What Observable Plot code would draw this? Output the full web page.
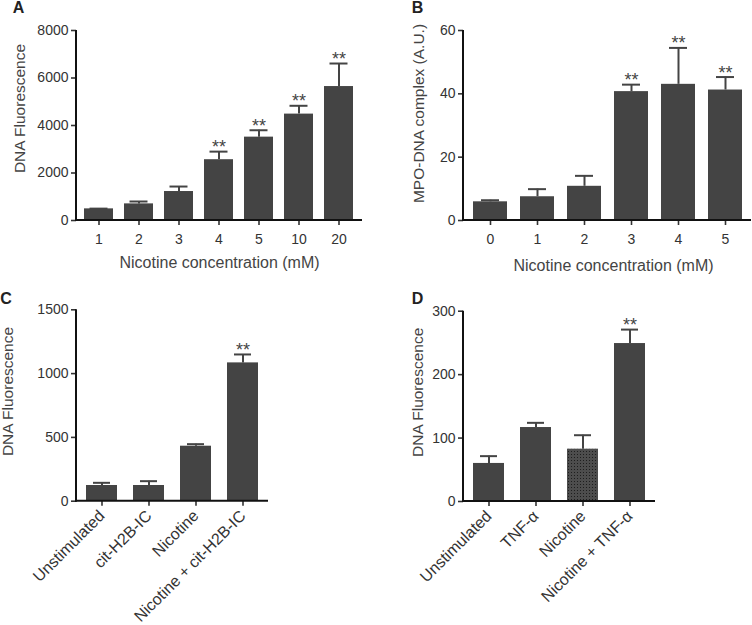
<!DOCTYPE html>
<html><head><meta charset="utf-8">
<script src="https://cdn.jsdelivr.net/npm/d3@7"></script>
<script src="https://cdn.jsdelivr.net/npm/@observablehq/plot@0.6"></script>
<style>
body{margin:0;background:#fff}
#fig{position:relative;width:752px;height:625px;font-family:"Liberation Sans",Arial,sans-serif}
#fig svg{position:absolute}
</style></head><body><div id="fig"></div>
<script>
// Panel A
const catsA = ["1","2","3","4","5","10","20"];
const meanA = [490,700,1220,2560,3510,4480,5640];
const upperA = [500,800,1430,2900,3800,4830,6610];
const sigA = [false,false,false,true,true,true,true];
const ticksA = [0,2000,4000,6000,8000];
// Panel B
const catsB = ["0","1","2","3","4","5"];
const meanB = [5.9,7.5,10.8,40.7,43.0,41.2];
const upperB = [6.4,9.9,14.1,42.9,54.5,45.3];
const sigB = [false,false,false,true,true,true];
const ticksB = [0,20,40,60];
// Panel C
const catsC = ["Unstimulated","cit-H2B-IC","Nicotine","Nicotine + cit-H2B-IC"];
const meanC = [123,123,431,1084];
const upperC = [144,157,447,1150];
const sigC = [false,false,false,true];
const ticksC = [0,500,1000,1500];
// Panel D
const catsD = ["Unstimulated","TNF-α","Nicotine","Nicotine + TNF-α"];
const meanD = [60,116.6,82.5,249];
const upperD = [71.5,124,104.5,271];
const sigD = [false,false,false,true];
const dottedD = [false,false,true,false];
const ticksD = [0,100,200,300];

const FONT = '"Liberation Sans", Arial, sans-serif';
const BAR = "#444";

function panel(o) {
  const data = o.cats.map((c,i)=>({c, v:o.mean[i], t:o.upper[i], s:o.sig[i], p:o.dotted ? o.dotted[i] : false}));
  const yMax = o.yTicks[o.yTicks.length-1];
  const marks = [
    () => {
      const d = d3.create("svg:defs");
      const p = d.append("pattern").attr("id","dots"+o.letter).attr("width",3).attr("height",3).attr("patternUnits","userSpaceOnUse");
      p.append("rect").attr("width",3).attr("height",3).attr("fill","#4d4d4d");
      p.append("rect").attr("width",1).attr("height",1).attr("fill","#1e1e1e");
      return d.node();
    },
    Plot.barY(data.filter(d=>!d.p), {x:"c", y:"v", fill:BAR}),
    Plot.barY(data.filter(d=>d.p), {x:"c", y:"v", fill:"url(#dots"+o.letter+")"}),
    Plot.ruleX(data, {x:"c", y1:"v", y2:"t", stroke:BAR, strokeWidth:2}),
    Plot.tickY(data, {x:"c", y:"t", stroke:BAR, strokeWidth:2, insetLeft:o.capInset, insetRight:o.capInset}),
    Plot.text(data.filter(d=>d.s), {x:"c", y:"t", text:()=>"**", dy:1.5, lineAnchor:"bottom", fontSize:18, fill:"#444"}),
    Plot.axisY({ticks:o.yTicks, tickFormat:d3.format("d"), tickSize:5, tickPadding:3, color:"#333", strokeWidth:1.6, fontSize:14, label:null}),
    Plot.axisX({tickSize:5, tickPadding:o.rotate ? 7 : 9, tickRotate:o.rotate || 0, color:"#333", strokeWidth:1.6, fontSize:o.rotate ? 16 : 14, label:null}),
    (index, scales, values, dims) => {
      const y = scales.y;
      const g = d3.create("svg:g").attr("stroke","#111").attr("stroke-width",2);
      g.append("line").attr("x1",dims.marginLeft).attr("x2",dims.marginLeft).attr("y1",y(yMax)).attr("y2",y(0)+1);
      g.append("line").attr("x1",dims.marginLeft-1).attr("x2",dims.width-dims.marginRight).attr("y1",y(0)).attr("y2",y(0));
      return g.node();
    },
    Plot.text([o.yLabel], {frameAnchor:"left", rotate:-90, textAnchor:"middle", lineAnchor:"middle", dx:o.yLabelDx, dy:o.yLabelDy, fontSize:15.5, fill:"#444"}),
    Plot.text([o.letter], {frameAnchor:"top-left", dx:o.letterDx, dy:o.letterDy, fontSize:16, fontWeight:"bold", fill:"#222", textAnchor:"middle", lineAnchor:"middle"})
  ];
  if (o.xLabel) marks.push(Plot.text([o.xLabel], {frameAnchor:"bottom", textAnchor:"middle", dx:o.xLabelDx||0, dy:o.xLabelDy, fontSize:16, fill:"#444", lineAnchor:"middle"}));
  const svg = Plot.plot({
    width:o.width, height:o.height,
    marginLeft:o.mL, marginTop:o.mT, marginBottom:o.mB, marginRight:o.mR,
    style:{fontFamily:FONT, fontSize:"14px", color:"#444", background:"transparent", overflow:"visible"},
    x:{domain:o.cats, paddingInner:o.pi, paddingOuter:o.po, label:null},
    y:{domain:[0,yMax], label:null},
    marks
  });
  svg.style.left = o.left + "px";
  svg.style.top = o.top + "px";
  document.getElementById("fig").appendChild(svg);
}

panel({letter:"A", cats:catsA, mean:meanA, upper:upperA, sig:sigA, yTicks:ticksA,
  left:0, top:0, width:376, height:280, mL:76, mT:30, mB:60, mR:14, pi:0.27, po:0.13, capInset:5.5,
  yLabel:"DNA Fluorescence", yLabelDx:-56, yLabelDy:-17, xLabel:"Nicotine concentration (mM)", xLabelDy:42,
  letterDx:-58, letterDy:-22.5});
panel({letter:"B", cats:catsB, mean:meanB, upper:upperB, sig:sigB, yTicks:ticksB,
  left:376, top:0, width:376, height:280, mL:87, mT:30, mB:60, mR:1, pi:0.28, po:0.15, capInset:8,
  yLabel:"MPO-DNA complex (A.U.)", yLabelDx:-44, yLabelDy:-12, xLabel:"Nicotine concentration (mM)", xLabelDy:45, xLabelDx:6,
  letterDx:-46, letterDy:-22.5});
panel({letter:"C", cats:catsC, mean:meanC, upper:upperC, sig:sigC, yTicks:ticksC, rotate:-45,
  left:0, top:280, width:376, height:345, mL:76, mT:29.3, mB:124.3, mR:108, pi:0.34, po:0.18, capInset:7,
  yLabel:"DNA Fluorescence", yLabelDx:-68, yLabelDy:-14,
  letterDx:-70.5, letterDy:-11});
panel({letter:"D", cats:catsD, mean:meanD, upper:upperD, sig:sigD, dotted:dottedD, yTicks:ticksD, rotate:-45,
  left:376, top:280, width:376, height:345, mL:87, mT:30.7, mB:124, mR:97, pi:0.34, po:0.18, capInset:7,
  yLabel:"DNA Fluorescence", yLabelDx:-45, yLabelDy:-14,
  letterDx:-46, letterDy:-12.7});
</script></body></html>
